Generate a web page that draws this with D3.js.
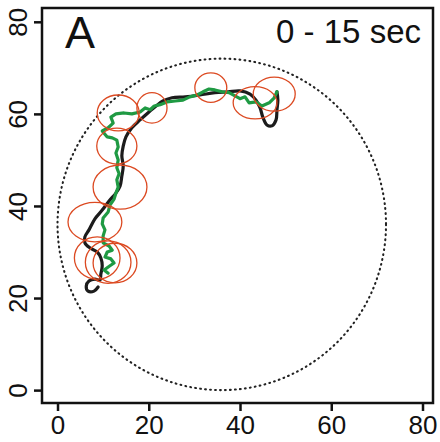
<!DOCTYPE html>
<html>
<head>
<meta charset="utf-8">
<script src="https://cdn.jsdelivr.net/npm/d3@7"></script>
<style>
    body { margin: 0; background: #fff; }
    text { font-family: "Liberation Sans", Arial, Helvetica, sans-serif; fill: #111; }
</style>
</head>
<body>
<div id="chart"></div>
<script>

// tick labels + panel text
let xTicks = [0, 20, 40, 60, 80];
let yTicks = [0, 20, 40, 60, 80];
let panelLabel = "A";
let timeLabel = "0 - 15 sec";

// tank outline (center x, center y, radius)
let tank = [36, 36, 36];

// black track (x, y)
let blackTrack = [
    [8.9,22.4],[8.0,21.5],[6.7,21.5],[6.3,22.6],[6.9,23.7],[8.2,24.1],[9.3,23.9],[9.5,25.2],
    [9.8,27.0],[9.5,28.7],[8.7,30.0],[7.1,30.9],[6.0,32.0],[6.0,33.3],[6.9,34.8],[8.2,37.2],
    [9.8,39.1],[11.3,41.1],[12.8,42.8],[13.7,44.3],[14.1,46.5],[14.4,48.7],[14.1,50.9],[14.4,53.0],
    [15.0,55.0],[16.3,57.0],[18.1,58.7],[19.8,60.2],[21.6,61.7],[23.1,62.8],[25.1,63.5],[28.0,63.7],
    [31.2,64.1],[34.5,64.6],[37.4,64.8],[40.0,65.0],[42.2,64.3],[43.5,63.0],[44.4,61.3],[45.0,59.3],
    [45.9,57.6],[47.0,57.4],[47.9,58.7],[48.1,60.9],[48.3,63.0],[48.1,64.8]
];

// green track (x, y)
let greenTrack = [
    [11.1,25.4],[10.2,26.1],[11.5,27.0],[12.4,27.6],[11.7,28.5],[10.4,28.9],[10.9,30.0],[12.0,30.4],
    [11.3,31.3],[10.0,32.0],[10.0,33.5],[10.4,34.8],[9.8,36.1],[10.0,37.4],[11.1,38.7],[11.5,40.2],
    [12.4,41.5],[12.8,42.8],[13.3,44.1],[13.0,45.7],[13.5,47.0],[13.0,48.3],[13.3,50.0],[12.8,51.5],
    [13.3,52.8],[13.0,54.3],[12.0,54.8],[10.9,55.0],[9.8,56.3],[11.1,57.0],[12.2,58.0],[11.7,59.3],
    [12.8,60.0],[14.6,60.2],[16.3,60.0],[18.1,60.4],[19.2,61.3],[20.3,60.9],[21.2,61.7],[22.5,62.0],
    [24.0,62.6],[25.8,62.8],[27.5,63.0],[29.0,63.7],[30.6,64.1],[31.9,64.8],[33.2,65.4],[34.5,65.2],
    [36.1,64.8],[37.6,64.6],[38.9,63.9],[40.0,63.3],[41.1,63.7],[42.0,62.4],[43.5,62.6],[44.8,61.7],
    [46.4,62.4],[47.5,63.5],[48.1,64.8]
];

// orange ellipses (cx, cy, rx, ry)
let ellipses = [
    [13.3,60.2,4.6,3.9],[20.7,61.3,3.3,3.3],[13.0,53.0,4.4,3.9],[13.7,44.1,5.9,4.8],
    [8.2,36.5,5.9,4.3],[8.7,28.7,5.0,4.6],[11.1,27.8,5.0,4.6],[12.6,27.6,4.8,4.3],
    [33.6,65.7,3.5,3.2],[43.3,62.4,4.8,3.5],[47.5,64.3,4.6,3.7]
];

let width = 440, height = 442;
let margin = {left: 42, top: 8, right: 7, bottom: 39};

let svg = d3.select("#chart").append("svg")
    .attr("width", width)
    .attr("height", height);

// scales (domain padded like R's default 4%)
let x = d3.scaleLinear().domain([-3.4, 82.3]).range([margin.left, width - margin.right]);
let y = d3.scaleLinear().domain([-2.8, 83.0]).range([height - margin.bottom, margin.top]);

// tank circle
svg.append("ellipse")
    .attr("cx", x(tank[0]))
    .attr("cy", y(tank[1]))
    .attr("rx", x(tank[0] + tank[2]) - x(tank[0]))
    .attr("ry", y(tank[1]) - y(tank[1] + tank[2]))
    .attr("fill", "none")
    .attr("stroke", "#222")
    .attr("stroke-width", 2.1)
    .attr("stroke-linecap", "round")
    .attr("stroke-dasharray", "0.8,4.2");

let line = d3.line().x(d => x(d[0])).y(d => y(d[1]));

// black track
svg.append("path")
    .datum(blackTrack)
    .attr("d", line.curve(d3.curveCatmullRom))
    .attr("fill", "none")
    .attr("stroke", "#1c1c1c")
    .attr("stroke-width", 3.2)
    .attr("stroke-linejoin", "round")
    .attr("stroke-linecap", "round");

// green track
svg.append("path")
    .datum(greenTrack)
    .attr("d", line.curve(d3.curveLinear))
    .attr("fill", "none")
    .attr("stroke", "#1f9a43")
    .attr("stroke-width", 3.2)
    .attr("stroke-linejoin", "round")
    .attr("stroke-linecap", "round");

// ellipses
svg.append("g")
    .selectAll("ellipse")
    .data(ellipses)
    .join("ellipse")
    .attr("cx", d => x(d[0]))
    .attr("cy", d => y(d[1]))
    .attr("rx", d => x(d[0] + d[2]) - x(d[0]))
    .attr("ry", d => y(d[1]) - y(d[1] + d[3]))
    .attr("fill", "none")
    .attr("stroke", "#dc4a22")
    .attr("stroke-width", 1.3);

// frame
svg.append("rect")
    .attr("x", margin.left)
    .attr("y", margin.top)
    .attr("width", width - margin.left - margin.right)
    .attr("height", height - margin.top - margin.bottom)
    .attr("fill", "none")
    .attr("stroke", "#111")
    .attr("stroke-width", 2.5);

// x axis
let xAxis = svg.append("g")
    .attr("transform", `translate(0,${height - margin.bottom})`)
    .call(d3.axisBottom(x).tickValues(xTicks).tickSize(8).tickPadding(5));
xAxis.select(".domain").remove();
xAxis.selectAll("line").attr("stroke", "#111").attr("stroke-width", 2.5);
xAxis.selectAll("text")
    .attr("font-size", 26)
    .attr("fill", "#111");

// y axis, labels rotated like R
let yAxis = svg.append("g")
    .attr("transform", `translate(${margin.left},0)`)
    .call(d3.axisLeft(y).tickValues(yTicks).tickSize(8));
yAxis.select(".domain").remove();
yAxis.selectAll("line").attr("stroke", "#111").attr("stroke-width", 2.5);
yAxis.selectAll("text")
    .attr("font-size", 26)
    .attr("fill", "#111")
    .attr("x", null)
    .attr("dy", null)
    .attr("text-anchor", "middle")
    .attr("transform", "translate(-15,0) rotate(-90)");

// panel labels
svg.append("text")
    .attr("x", 65)
    .attr("y", 48)
    .attr("font-size", 45)
    .text(panelLabel);

svg.append("text")
    .attr("x", 421)
    .attr("y", 43)
    .attr("text-anchor", "end")
    .attr("font-size", 33)
    .text(timeLabel);

</script>
</body>
</html>
